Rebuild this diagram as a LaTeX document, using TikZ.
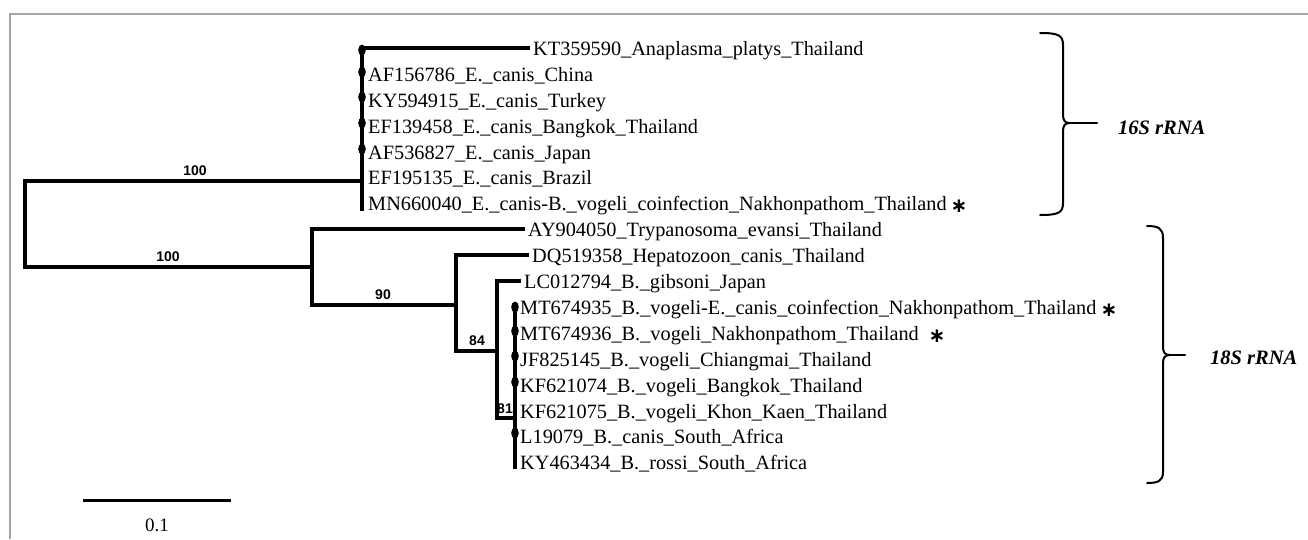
\documentclass[tikz,border=0pt]{standalone}
\usepackage{fontspec}
\setmainfont{Liberation Serif}
\newfontfamily\bsfont{Liberation Sans}
\newfontfamily\symfont{DejaVu Sans}
\begin{document}
\begin{tikzpicture}[x=1pt,y=-1pt,
  br/.style={line width=3.4pt, line join=miter, line cap=butt},
  leaf/.style={anchor=base west, inner xsep=3pt, inner ysep=2pt, font=\fontsize{20.3}{22}\selectfont},
  boot/.style={font=\bsfont\bfseries\fontsize{14}{14}\selectfont, inner sep=0pt},
  star/.style={font=\symfont\bfseries\fontsize{20}{20}\selectfont, inner sep=0pt},
  genelab/.style={font=\bfseries\itshape\fontsize{20.5}{20.5}\selectfont, inner sep=0pt},
  bracepath/.style={line width=2pt, line cap=round},
  dotmark/.style={fill=black}]
\useasboundingbox (0,0) rectangle (1308,539);
% frame
\draw[gray!70, line width=1.5pt] (10,539) -- (10,14) -- (1308,14);

% leaves 16S
\node[leaf] (KT) at (530,55) {KT359590\_Anaplasma\_platys\_Thailand};
\node[leaf] (AF1) at (365,81) {AF156786\_E.\_canis\_China};
\node[leaf] (KY1) at (365,107) {KY594915\_E.\_canis\_Turkey};
\node[leaf] (EF1) at (365,133) {EF139458\_E.\_canis\_Bangkok\_Thailand};
\node[leaf] (AF2) at (365,159) {AF536827\_E.\_canis\_Japan};
\node[leaf] (EF2) at (365,184) {EF195135\_E.\_canis\_Brazil};
\node[leaf] (MN) at (365,210) {MN660040\_E.\_canis-B.\_vogeli\_coinfection\_Nakhonpathom\_Thailand};
% leaves 18S
\node[leaf] (AY) at (525,236) {AY904050\_Trypanosoma\_evansi\_Thailand};
\node[leaf] (DQ) at (529,262) {DQ519358\_Hepatozoon\_canis\_Thailand};
\node[leaf] (LC) at (521,288) {LC012794\_B.\_gibsoni\_Japan};
\node[leaf] (MT1) at (517,314) {MT674935\_B.\_vogeli-E.\_canis\_coinfection\_Nakhonpathom\_Thailand};
\node[leaf] (MT2) at (517,340) {MT674936\_B.\_vogeli\_Nakhonpathom\_Thailand};
\node[leaf] (JF) at (517,366) {JF825145\_B.\_vogeli\_Chiangmai\_Thailand};
\node[leaf] (KF1) at (517,392) {KF621074\_B.\_vogeli\_Bangkok\_Thailand};
\node[leaf] (KF2) at (517,418) {KF621075\_B.\_vogeli\_Khon\_Kaen\_Thailand};
\node[leaf] (L19) at (517,443) {L19079\_B.\_canis\_South\_Africa};
\node[leaf] (KY2) at (517,469) {KY463434\_B.\_rossi\_South\_Africa};

% asterisks
\node[star] (s1) at (959,206) {∗};
\node[star] (s2) at (1109,310) {∗};
\node[star] (s3) at (937,336) {∗};

% internal coordinates
\coordinate (j16) at (362,181);
\coordinate (root) at (25,224);
\coordinate (n18) at (312,267);
\coordinate (n90) at (456,305);
\coordinate (n84) at (497,351);
\coordinate (n81) at (515,418);
\coordinate (t16) at (362,48);
\coordinate (b16) at (362,211);
\coordinate (tAY) at (312,229);
\coordinate (tDQ) at (456,255);
\coordinate (tLC) at (497,281);
\coordinate (tMT) at (515,305);
\coordinate (bKY) at (515,469);

% branches
\draw[br] (j16) -| (root) |- (n18);
\draw[br] (t16 -| KT.west) -- (t16) -- (b16);
\draw[br] (tAY -| AY.west) -- (tAY) |- (n90);
\draw[br] (tDQ -| DQ.west) -- (tDQ) |- (n84);
\draw[br] (tLC -| LC.west) -- (tLC) |- (n81);
\draw[br] (tMT) -- (bKY);

% dots (zero-length tips)
\foreach \yy in {50,72,97,123,149}
  \fill[dotmark] (362,\yy) ellipse [x radius=3.8pt, y radius=5.5pt];
\foreach \yy in {307,331,356,382,433}
  \fill[dotmark] (515,\yy) ellipse [x radius=3.8pt, y radius=5.5pt];

% bootstrap values
\node[boot] (b100a) at (195,171) {100};
\node[boot] (b100b) at (168,257) {100};
\node[boot] (b90) at (383,295) {90};
\node[boot] (b84) at (477,341) {84};
\node[boot] (b81) at (505,409) {81};

% braces
\draw[bracepath] (1040,33) .. controls (1058,33) and (1063,35) .. (1063,45)
  -- (1063,114) .. controls (1063,121) and (1065,123) .. (1070,123)
  .. controls (1065,123) and (1063,125) .. (1063,132)
  -- (1063,203) .. controls (1063,213) and (1058,215) .. (1040,215);
\coordinate (c16) at (1070,123);
\coordinate (e16) at (1097,123);
\draw[bracepath] (c16) -- (e16);
\draw[bracepath] (1147,226) .. controls (1158,226) and (1163,228) .. (1163,238)
  -- (1163,346) .. controls (1163,353) and (1165,355) .. (1170,355)
  .. controls (1165,355) and (1163,357) .. (1163,364)
  -- (1163,472) .. controls (1163,481) and (1158,483) .. (1147,483);
\coordinate (c18) at (1170,355);
\coordinate (e18) at (1185,355);
\draw[bracepath] (c18) -- (e18);
\node[genelab, anchor=west] (g16) at (1118,128) {16S rRNA};
\node[genelab, anchor=west] (g18) at (1210,358) {18S rRNA};

% scale bar
\coordinate (sb1) at (83,500);
\coordinate (sb2) at (231,500);
\draw[line width=3pt] (sb1) -- (sb2);
\node[font=\fontsize{19}{19}\selectfont, inner sep=0pt] (sbl) at (157,525) {0.1};
\end{tikzpicture}
\end{document}
